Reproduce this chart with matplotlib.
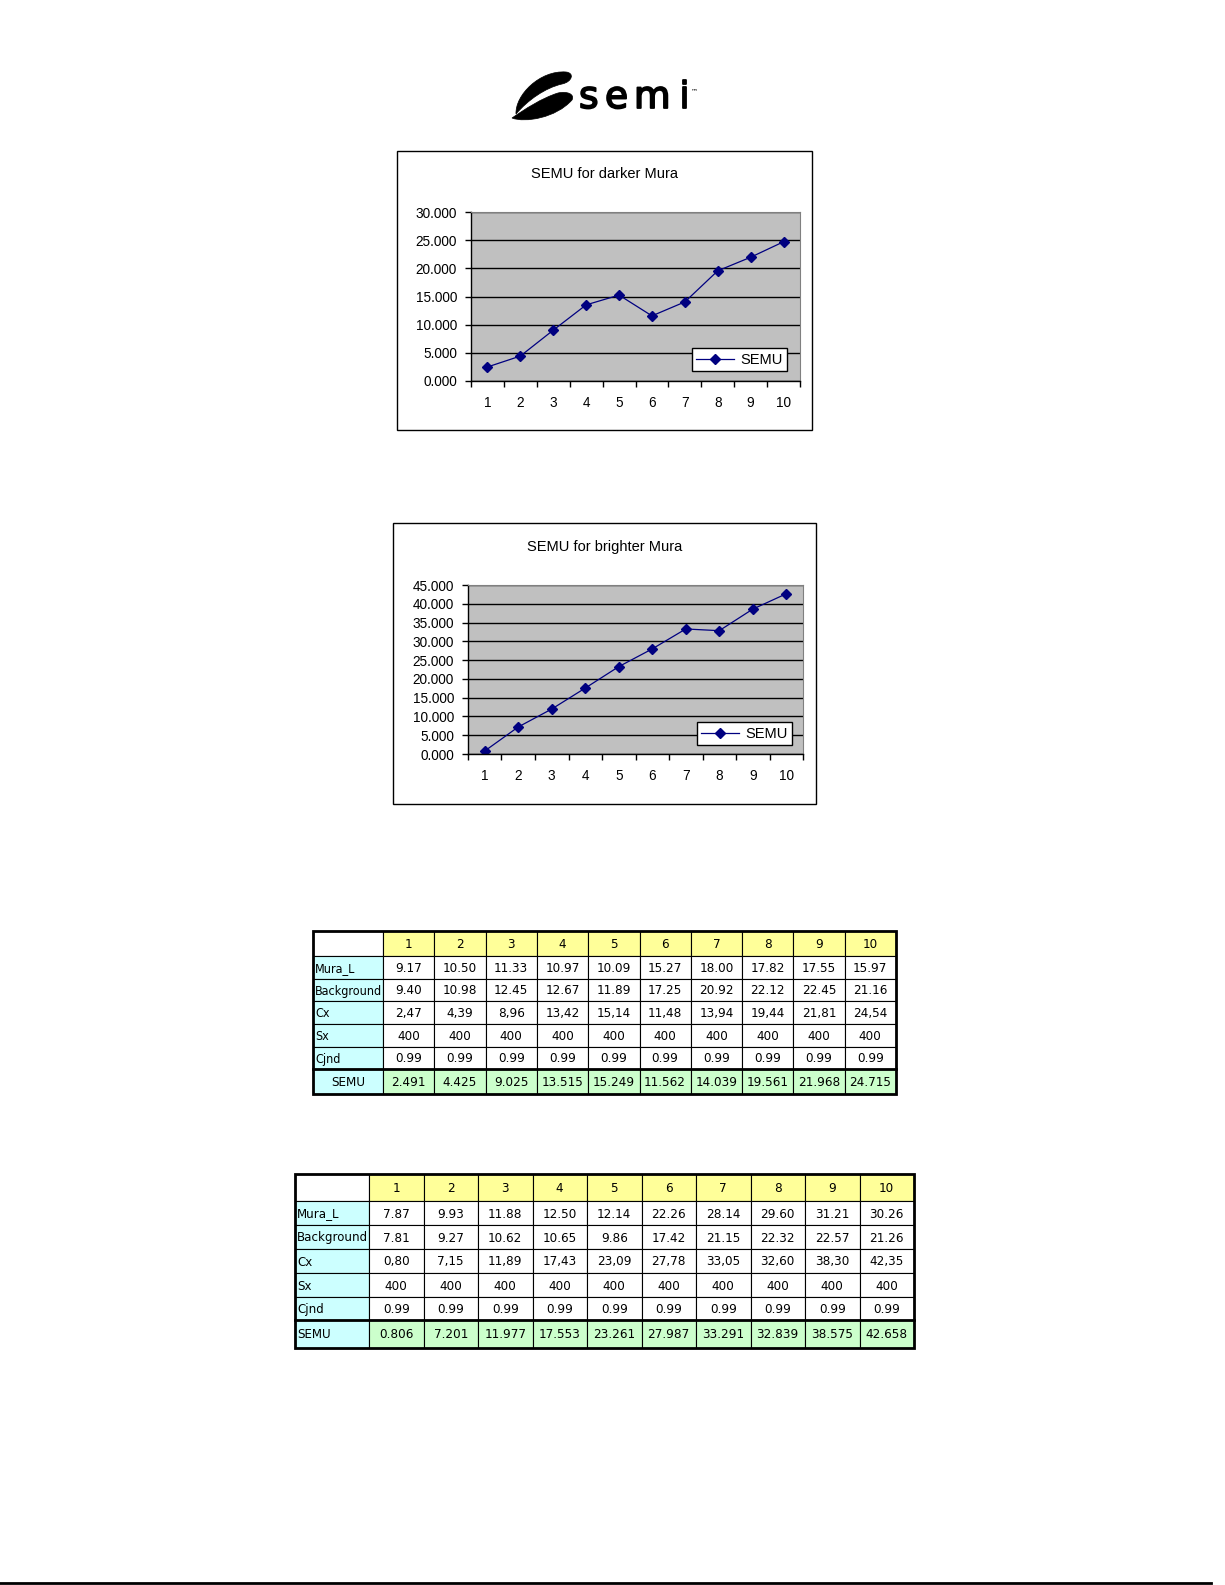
import numpy as np
import matplotlib
matplotlib.use('Agg')
import matplotlib.pyplot as plt
import matplotlib.patheffects as pe
from matplotlib.patches import Rectangle, PathPatch
from matplotlib.path import Path
from matplotlib.ticker import FuncFormatter, MultipleLocator, FixedLocator

W, H = 1225, 1585

points = [1, 2, 3, 4, 5, 6, 7, 8, 9, 10]
row_names = ['Mura_L', 'Background', 'Cx', 'Sx', 'Cjnd']

dark_mura_l = [9.17, 10.50, 11.33, 10.97, 10.09, 15.27, 18.00, 17.82, 17.55, 15.97]
dark_background = [9.40, 10.98, 12.45, 12.67, 11.89, 17.25, 20.92, 22.12, 22.45, 21.16]
dark_cx = [2.47, 4.39, 8.96, 13.42, 15.14, 11.48, 13.94, 19.44, 21.81, 24.54]
dark_semu = [2.491, 4.425, 9.025, 13.515, 15.249, 11.562, 14.039, 19.561, 21.968, 24.715]

bright_mura_l = [7.87, 9.93, 11.88, 12.50, 12.14, 22.26, 28.14, 29.60, 31.21, 30.26]
bright_background = [7.81, 9.27, 10.62, 10.65, 9.86, 17.42, 21.15, 22.32, 22.57, 21.26]
bright_cx = [0.80, 7.15, 11.89, 17.43, 23.09, 27.78, 33.05, 32.60, 38.30, 42.35]
bright_semu = [0.806, 7.201, 11.977, 17.553, 23.261, 27.987, 33.291, 32.839, 38.575, 42.658]

sx = [400] * 10
cjnd = [0.99] * 10

chart_font = ['Liberation Sans', 'DejaVu Sans']
navy = '#000080'

fig = plt.figure(figsize=(W / 100, H / 100), dpi=100)
page = fig.add_axes([0, 0, 1, 1], zorder=0)
page.set_xlim(0, W)
page.set_ylim(H, 0)
page.axis('off')


def px_rect(x0, y0, x1, y1):
    return [x0 / W, 1 - y1 / H, (x1 - x0) / W, (y1 - y0) / H]


# logo: two black blades and the word
C4 = Path.CURVE4
blade = Path([(516, 114), (515, 95), (540, 70), (566, 72),
              (575, 73), (572, 82), (562, 84),
              (545, 88), (528, 100), (516, 114), (516, 114)],
             [Path.MOVETO, C4, C4, C4, C4, C4, C4, C4, C4, C4, Path.CLOSEPOLY])
crescent = Path([(512, 118), (525, 123), (556, 118), (572, 100),
                 (575, 94), (567, 91), (558, 93),
                 (542, 98), (525, 109), (512, 118), (512, 118)],
                [Path.MOVETO, C4, C4, C4, C4, C4, C4, C4, C4, C4, Path.CLOSEPOLY])
page.add_patch(PathPatch(blade, facecolor='black', edgecolor='black', lw=0.5))
page.add_patch(PathPatch(crescent, facecolor='black', edgecolor='black', lw=0.5))
for ch, lx in zip('semi', [579, 605, 634, 679]):
    page.text(lx, 108, ch, fontsize=27, family='DejaVu Sans', ha='left', va='baseline',
              path_effects=[pe.withStroke(linewidth=1.3, foreground='black')])
page.text(691, 91, '™', fontsize=5, family='DejaVu Sans', ha='left', va='center')


def draw_chart(frame, area, title, title_y, values, ymax, leg_anchor):
    fx0, fy0, fx1, fy1 = frame
    page.add_patch(Rectangle((fx0, fy0), fx1 - fx0, fy1 - fy0, fill=False,
                             edgecolor='black', lw=1))
    page.text((fx0 + fx1) / 2, title_y, title, fontsize=10.5, family=chart_font,
              ha='center', va='center')
    ax = fig.add_axes(px_rect(*area), zorder=2)
    ax.set_facecolor('#C0C0C0')
    ax.plot(points, values, color=navy, lw=0.9, marker='D', markersize=5.2,
            markerfacecolor=navy, markeredgecolor=navy, label='SEMU')
    ax.set_xlim(0.5, 10.5)
    ax.set_ylim(0, ymax)
    ax.yaxis.set_major_locator(MultipleLocator(5))
    ax.yaxis.set_major_formatter(FuncFormatter(lambda v, p: f'{v:.3f}'))
    ax.grid(axis='y', color='black', lw=1)
    ax.set_axisbelow(True)
    ax.set_xticks(points)
    ax.xaxis.set_minor_locator(FixedLocator(np.arange(0.5, 11, 1)))
    ax.tick_params(axis='x', which='major', length=0, pad=11)
    ax.tick_params(axis='x', which='minor', length=4, direction='out', width=1)
    ax.tick_params(axis='y', length=4, direction='out', width=1, pad=6)
    for lbl in ax.get_xticklabels() + ax.get_yticklabels():
        lbl.set_family(chart_font)
        lbl.set_fontsize(9.8)
    for s in ['top', 'right']:
        ax.spines[s].set_color('#808080')
        ax.spines[s].set_linewidth(0.8)
    for s in ['left', 'bottom']:
        ax.spines[s].set_color('black')
        ax.spines[s].set_linewidth(1)
    leg = ax.legend(loc='lower right', bbox_to_anchor=leg_anchor, fancybox=False,
                    framealpha=1, edgecolor='black', borderpad=0.3, handlelength=2.6,
                    handletextpad=0.4, borderaxespad=0, prop={'family': chart_font, 'size': 10.5})
    leg.get_frame().set_linewidth(1)
    return ax


draw_chart((397, 151, 812, 430), (471, 212, 800, 381), 'SEMU for darker Mura', 174,
           dark_semu, 30, (0.96, 0.059))
draw_chart((393, 523, 816, 804), (468, 585, 803, 754), 'SEMU for brighter Mura', 547,
           bright_semu, 45, (0.967, 0.053))


def fmt_rows(mura_l, background, cx, semu):
    rows = [[f'{v:.2f}' for v in mura_l],
            [f'{v:.2f}' for v in background],
            [f'{v:.2f}'.replace('.', ',') for v in cx],
            [str(v) for v in sx],
            [f'{v:.2f}' for v in cjnd]]
    return rows, [f'{v:.3f}' for v in semu]


def cell_text(x, y, txt, ha, size=9.6):
    page.text(x, y, txt, ha=ha, va='center', fontsize=size, family='DejaVu Sans',
              fontstretch='condensed', zorder=6)


def draw_table(x0, x1, first_w, row_edges, rows, semu_row, semu_center):
    col_w = (x1 - x0 - first_w) / 10
    col_edges = [x0, x0 + first_w] + [x0 + first_w + col_w * (i + 1) for i in range(10)]
    n = len(row_edges) - 1
    for r in range(n):
        ya, yb = row_edges[r], row_edges[r + 1]
        ym = (ya + yb) / 2 + 1
        for c in range(11):
            xa, xb = col_edges[c], col_edges[c + 1]
            if r == 0:
                color = 'white' if c == 0 else '#FFFF99'
            elif c == 0:
                color = '#CCFFFF'
            elif r == n - 1:
                color = '#CCFFCC'
            else:
                color = 'white'
            page.add_patch(Rectangle((xa, ya), xb - xa, yb - ya, facecolor=color,
                                     edgecolor='black', lw=0.8))
            if r == 0:
                txt = '' if c == 0 else str(points[c - 1])
            elif r == n - 1:
                txt = 'SEMU' if c == 0 else semu_row[c - 1]
            else:
                txt = row_names[r - 1] if c == 0 else rows[r - 1][c - 1]
            if c == 0 and not (r == n - 1 and semu_center):
                cell_text(xa + 2, ym, txt, 'left', size=min(9.6, first_w / 7.8))
            else:
                cell_text((xa + xb) / 2, ym, txt, 'center')
    page.add_patch(Rectangle((x0, row_edges[0]), x1 - x0, row_edges[-1] - row_edges[0],
                             fill=False, edgecolor='black', lw=2, zorder=5))
    page.plot([x0, x1], [row_edges[-2], row_edges[-2]], color='black', lw=2, zorder=5)


rows1, semu1 = fmt_rows(dark_mura_l, dark_background, dark_cx, dark_semu)
draw_table(313, 896, 70, [931, 956, 979, 1001, 1024, 1047, 1069, 1094], rows1, semu1, True)
rows2, semu2 = fmt_rows(bright_mura_l, bright_background, bright_cx, bright_semu)
draw_table(295, 914, 74, [1174, 1201, 1225, 1249, 1273, 1297, 1320, 1348], rows2, semu2, False)

page.plot([0, 1211], [1583, 1583], color='black', lw=2)

fig.savefig('out.png', dpi=100)
